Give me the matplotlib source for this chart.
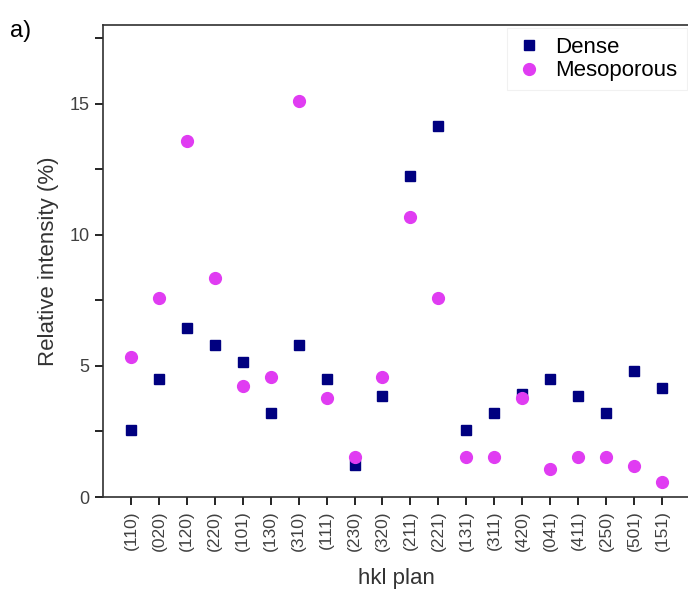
import matplotlib
matplotlib.use("Agg")
import matplotlib.pyplot as plt
from matplotlib.ticker import MultipleLocator

plt.rcParams['font.family'] = ['Liberation Sans', 'DejaVu Sans']

# mặt mạng hkl
planes = ['(110)', '(020)', '(120)', '(220)', '(101)', '(130)', '(310)', '(111)',
          '(230)', '(320)', '(211)', '(221)', '(131)', '(311)', '(420)', '(041)',
          '(411)', '(250)', '(501)', '(151)']
dense = [2.56, 4.5, 6.44, 5.78, 5.14, 3.22, 5.78, 4.5, 1.22, 3.85,
         12.23, 14.16, 2.56, 3.22, 3.92, 4.5, 3.85, 3.22, 4.82, 4.17]
meso = [5.33, 7.6, 13.56, 8.37, 4.25, 4.57, 15.09, 3.79, 1.54, 4.57,
        10.67, 7.6, 1.52, 1.52, 3.79, 1.06, 1.52, 1.52, 1.2, 0.58]

x = list(range(len(planes)))

fig = plt.figure(figsize=(6.88, 5.90), dpi=100)
ax = fig.add_axes([0.1497, 0.1576, 0.853, 0.8])

ax.plot(x, dense, 's', color='#000080', markersize=7.5, linestyle='none', label='Dense')
ax.plot(x, meso, 'o', color='#E03CF2', markersize=8.5, linestyle='none', label='Mesoporous')

ax.set_xlim(-1, 20)
ax.set_ylim(0, 18)
ax.set_xticks(x)
ax.set_xticklabels(planes, rotation=90, fontsize=12.5, color='#404040')
ax.yaxis.set_major_locator(MultipleLocator(5))
ax.yaxis.set_minor_locator(MultipleLocator(2.5))
ax.tick_params(axis='y', which='both', direction='out', length=5.5, width=1.2,
               labelsize=13, labelcolor='#404040', pad=4)
ax.tick_params(axis='x', direction='out', length=6, width=1.2)

for s in ['left', 'bottom', 'top']:
    ax.spines[s].set_linewidth(1.2)
    ax.spines[s].set_color('#303030')
ax.spines['right'].set_visible(False)

ax.set_xlabel('hkl plan', fontsize=16, color='#333333', labelpad=12)
ax.set_ylabel('Relative intensity (%)', fontsize=16, color='#333333', labelpad=8)

leg = ax.legend(loc='upper right', fontsize=16, frameon=True, fancybox=False,
                handletextpad=0.6, borderaxespad=0.15, labelspacing=0.1, handlelength=1.2)
leg.get_frame().set_edgecolor('#eeeeee')
leg.get_frame().set_linewidth(0.8)

fig.text(0.014, 0.948, 'a)', fontsize=17, color='black', va='center')

fig.savefig('out.png', dpi=100)
